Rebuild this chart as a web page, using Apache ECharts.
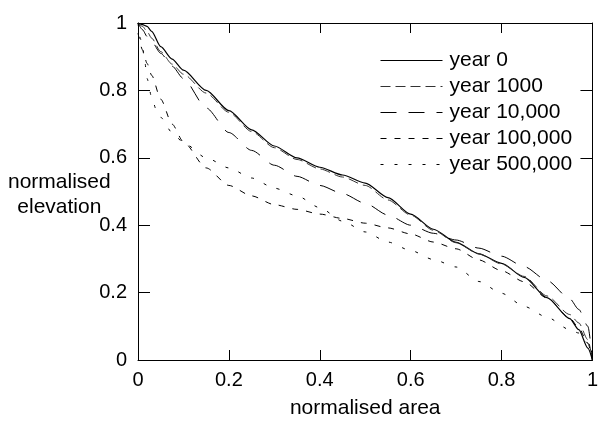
<!DOCTYPE html>
<html>
<head>
<meta charset="utf-8">
<script src="https://cdn.jsdelivr.net/npm/echarts@6/dist/echarts.min.js"></script>
<style>
html,body{margin:0;padding:0;background:#fff;}
#chart{width:601px;height:424px;}
</style>
</head>
<body>
<div id="chart"></div>
<script>
// normalised area (x) sample positions
var xMain = [0, 0.01, 0.02, 0.03, 0.05, 0.075, 0.1, 0.15, 0.2, 0.25, 0.3, 0.35, 0.4, 0.45, 0.5, 0.55, 0.6, 0.65, 0.7, 0.75, 0.8, 0.85, 0.9, 0.95, 0.97, 0.99, 1];
var xOld  = [0, 0.005, 0.01, 0.015, 0.02, 0.03, 0.04, 0.05, 0.075, 0.1, 0.15, 0.2, 0.25, 0.3, 0.35, 0.4, 0.45, 0.5, 0.55, 0.6, 0.65, 0.7, 0.75, 0.8, 0.85, 0.9, 0.95, 0.97, 0.99, 1];

var year0      = [1, 0.995, 0.99, 0.975, 0.93, 0.893, 0.86, 0.80, 0.74, 0.683, 0.635, 0.60, 0.572, 0.549, 0.525, 0.482, 0.433, 0.388, 0.349, 0.315, 0.287, 0.245, 0.185, 0.123, 0.09, 0.035, 0];
var year1000   = [1, 0.99, 0.975, 0.955, 0.915, 0.878, 0.848, 0.792, 0.735, 0.678, 0.63, 0.595, 0.567, 0.543, 0.518, 0.475, 0.43, 0.385, 0.348, 0.315, 0.285, 0.248, 0.19, 0.135, 0.11, 0.06, 0];
var year10000  = [1, 0.98, 0.96, 0.945, 0.91, 0.872, 0.835, 0.748, 0.675, 0.622, 0.578, 0.545, 0.518, 0.494, 0.465, 0.43, 0.40, 0.376, 0.356, 0.332, 0.308, 0.277, 0.236, 0.182, 0.15, 0.10, 0];
var year100000 = [0.97, 0.92, 0.88, 0.845, 0.774, 0.70, 0.647, 0.57, 0.518, 0.487, 0.461, 0.447, 0.433, 0.42, 0.406, 0.392, 0.374, 0.35, 0.33, 0.297, 0.265, 0.232, 0.184, 0.125, 0.095, 0.05, 0];
var year500000 = [1, 0.955, 0.925, 0.885, 0.835, 0.78, 0.743, 0.72, 0.675, 0.645, 0.60, 0.57, 0.54, 0.51, 0.487, 0.452, 0.412, 0.38, 0.35, 0.325, 0.298, 0.276, 0.233, 0.198, 0.159, 0.127, 0.09, 0.08, 0.05, 0];

var seriesNames = ['year 0', 'year 1000', 'year 10,000', 'year 100,000', 'year 500,000'];
var xTicks = [0, 0.2, 0.4, 0.6, 0.8, 1];
var yTicks = [0, 0.2, 0.4, 0.6, 0.8, 1];

function pairs(xs, ys) { return xs.map(function (x, i) { return [x, ys[i]]; }); }

var font = 'Liberation Sans, Arial, sans-serif';
var axisCommon = {
  type: 'value', min: 0, max: 1, interval: 0.2,
  axisLine: { show: true, onZero: false, lineStyle: { color: '#000', width: 1 } },
  splitLine: { show: false }
};

var chart = echarts.init(document.getElementById('chart'));
chart.setOption({
  animation: false,
  backgroundColor: '#fff',
  grid: { left: 138, right: 4, top: 23, bottom: 61 },
  xAxis: [
    Object.assign({}, axisCommon, {
      position: 'bottom',
      name: 'normalised area', nameLocation: 'middle', nameGap: 38,
      nameTextStyle: { color: '#000', fontSize: 21, fontFamily: font },
      axisTick: { inside: true, length: 10, lineStyle: { color: '#000' } },
      axisLabel: { color: '#000', fontSize: 20, fontFamily: font, margin: 10,
        formatter: function (v) { return xTicks.indexOf(v) >= 0 ? String(v) : ''; } }
    }),
    Object.assign({}, axisCommon, {
      position: 'top',
      axisTick: { inside: true, length: 10, lineStyle: { color: '#000' } },
      axisLabel: { show: false }
    })
  ],
  yAxis: [
    Object.assign({}, axisCommon, {
      position: 'left',
      axisTick: { inside: true, length: 12, lineStyle: { color: '#000' } },
      axisLabel: { color: '#000', fontSize: 20, fontFamily: font, margin: 11,
        formatter: function (v) { return yTicks.indexOf(v) >= 0 ? String(v) : ''; } }
    }),
    Object.assign({}, axisCommon, {
      position: 'right',
      axisTick: { inside: true, length: 12, lineStyle: { color: '#000' } },
      axisLabel: { show: false }
    })
  ],
  graphic: [{
    type: 'text', left: 8, top: 170,
    style: { text: 'normalised\nelevation', fill: '#000', font: '21px ' + font, textAlign: 'center', lineHeight: 25, x: 52 }
  }],
  legend: {
    show: true, padding: 0,
    orient: 'vertical', left: 380, top: 50, itemWidth: 62, itemHeight: 14, itemGap: 5,
    itemStyle: { opacity: 0, borderWidth: 0 },
    lineStyle: { width: 1 },
    textStyle: { color: '#000', fontSize: 21, fontFamily: font, padding: [0, 0, 0, 2] },
    data: seriesNames
  },
  series: [
    { name: seriesNames[0], type: 'line', symbol: 'none', smooth: 0.25, smoothMonotone: 'x',
      data: pairs(xMain, year0), lineStyle: { color: '#000', width: 1.2, type: 'solid' }, itemStyle: { color: '#000' } },
    { name: seriesNames[1], type: 'line', symbol: 'none', smooth: 0.25, smoothMonotone: 'x',
      data: pairs(xMain, year1000), lineStyle: { color: '#333', width: 1, type: [10, 5] }, itemStyle: { color: '#333' } },
    { name: seriesNames[2], type: 'line', symbol: 'none', smooth: 0.25, smoothMonotone: 'x',
      data: pairs(xMain, year10000), lineStyle: { color: '#000', width: 1, type: [16, 12] }, itemStyle: { color: '#000' } },
    { name: seriesNames[3], type: 'line', symbol: 'none', smooth: 0.25, smoothMonotone: 'x',
      data: pairs(xMain, year100000), lineStyle: { color: '#000', width: 1, type: [6, 8] }, itemStyle: { color: '#000' } },
    { name: seriesNames[4], type: 'line', symbol: 'none', smooth: 0.25, smoothMonotone: 'x',
      data: pairs(xOld, year500000), lineStyle: { color: '#000', width: 1, type: [3, 11] }, itemStyle: { color: '#000' } }
  ]
});
</script>
</body>
</html>
